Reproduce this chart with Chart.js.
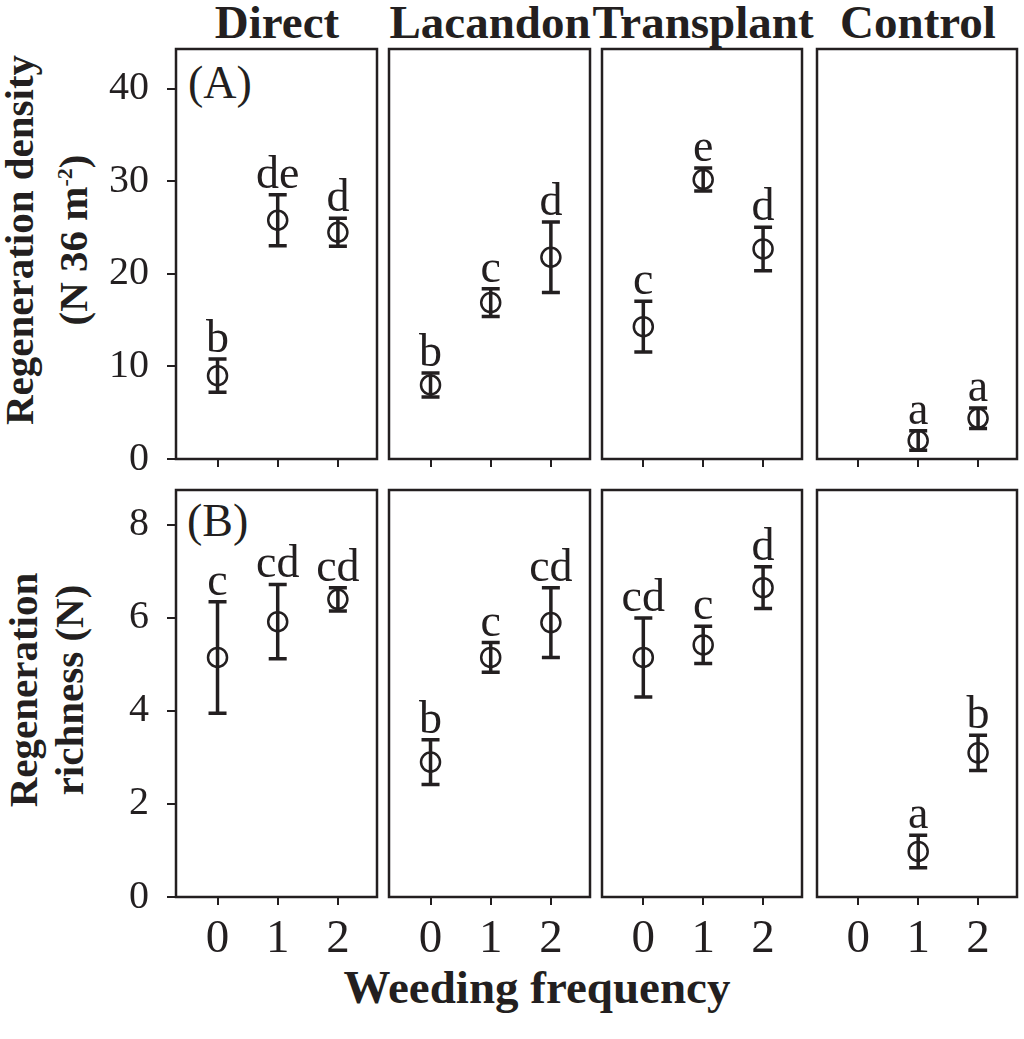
<!DOCTYPE html>
<html>
<head>
<meta charset="utf-8">
<script src="https://cdn.jsdelivr.net/npm/chart.js@4.4.0/dist/chart.umd.min.js"></script>
<style>
  body { margin: 0; background: #fff; }
  #wrap {
    position: relative; width: 1024px; height: 1039px; overflow: hidden;
    font-family: "Liberation Serif", "Times New Roman", serif; color: #231f20;
  }
  #wrap canvas { position: absolute; }
  .colTitle {
    position: absolute; top: -5px; font-weight: bold; font-size: 47px;
    transform: translateX(-50%); white-space: nowrap;
  }
  .panelTag { position: absolute; font-size: 46px; }
  .yTitle {
    position: absolute; font-weight: bold; font-size: 41px; line-height: 46px;
    text-align: center; white-space: nowrap;
    transform: translate(-50%, -50%) rotate(-90deg);
  }
  .yTitle sup { font-size: 22px; }
  #xTitle {
    position: absolute; left: 537px; top: 960px; font-weight: bold; font-size: 47px;
    transform: translateX(-50%); white-space: nowrap;
  }
</style>
</head>
<body>
<div id="wrap">
  <div class="colTitle" style="left:277px">Direct</div>
  <div class="colTitle" style="left:490px">Lacandon</div>
  <div class="colTitle" style="left:703px">Transplant</div>
  <div class="colTitle" style="left:918px">Control</div>
  <div class="panelTag" style="left:188px; top:56px">(A)</div>
  <div class="panelTag" style="left:187px; top:494px">(B)</div>
  <div class="yTitle" style="left:46px; top:240px">Regeneration density<br>(N 36 m<sup>-2</sup>)</div>
  <div class="yTitle" style="left:46px; top:690px">Regeneration<br>richness (N)</div>
  <div id="xTitle">Weeding frequency</div>
</div>
<script>
// ===== DATA =====
const treatments = ["Direct", "Lacandon", "Transplant", "Control"];
const weeding = [0, 1, 2];

// (A) regeneration density, N 36 m-2 (mean, +/- error)
const densityMean = [
    [9.0, 25.8, 24.5],
    [8.0, 16.9, 21.8],
    [14.3, 30.2, 22.7],
    [null, 2.0, 4.4],
];
const densityErr = [
    [1.8, 2.75, 1.5],
    [1.3, 1.5, 3.8],
    [2.75, 1.25, 2.35],
    [null, 1.05, 1.1],
];
const densityLetters = [
    ["b", "de", "d"],
    ["b", "c", "d"],
    ["c", "e", "d"],
    ["", "a", "a"],
];
const densityTicks = [0, 10, 20, 30, 40];

// (B) regeneration richness, N
const richnessMean = [
    [5.15, 5.92, 6.4],
    [2.9, 5.15, 5.9],
    [5.15, 5.42, 6.65],
    [null, 0.98, 3.1],
];
const richnessErr = [
    [1.2, 0.8, 0.25],
    [0.48, 0.32, 0.75],
    [0.85, 0.4, 0.45],
    [null, 0.35, 0.38],
];
const richnessLetters = [
    ["c", "cd", "cd"],
    ["b", "c", "cd"],
    ["cd", "c", "d"],
    ["", "a", "b"],
];
const richnessTicks = [0, 2, 4, 6, 8];

// ===== LAYOUT =====
const ink = "#231f20";
const serif = "'Liberation Serif', 'Times New Roman', serif";
const panelLeft = [176, 389, 602, 817];
const panelRight = [379, 592, 804, 1019];
const rowTop = [47, 488];
const rowBottom = [459, 897];
const xMin = -0.69, xMax = 2.65;

function errorBarPlugin(means, errs, letters) {
    return {
        id: "errorBars",
        afterDatasetsDraw(chart) {
            const { ctx, scales: { x, y } } = chart;
            ctx.save();
            ctx.strokeStyle = ink;
            ctx.fillStyle = ink;
            means.forEach((m, i) => {
                if (m == null) return;
                const px = x.getPixelForValue(weeding[i]);
                const top = y.getPixelForValue(m + errs[i]);
                const bot = y.getPixelForValue(m - errs[i]);
                ctx.lineWidth = 3.5;
                ctx.beginPath();
                ctx.moveTo(px, top);
                ctx.lineTo(px, bot);
                ctx.moveTo(px - 9, top);
                ctx.lineTo(px + 9, top);
                ctx.moveTo(px - 9, bot);
                ctx.lineTo(px + 9, bot);
                ctx.stroke();
                if (letters[i]) {
                    ctx.font = "46px " + serif;
                    ctx.textAlign = "center";
                    ctx.textBaseline = "alphabetic";
                    ctx.fillText(letters[i], px, top - 7);
                }
            });
            ctx.restore();
        },
        afterDraw(chart) {
            const a = chart.chartArea;
            const ctx = chart.ctx;
            ctx.save();
            ctx.strokeStyle = ink;
            ctx.lineWidth = 2.5;
            ctx.strokeRect(a.left, a.top, a.right - a.left, a.bottom - a.top);
            ctx.restore();
        },
    };
}

function makePanel(row, col) {
    const padL = 90, padT = 10, padR = 10;
    const padB = row === 1 ? 75 : 15;
    const L = panelLeft[col], R = panelRight[col], T = rowTop[row], B = rowBottom[row];
    const means = row === 0 ? densityMean[col] : richnessMean[col];
    const errs = row === 0 ? densityErr[col] : richnessErr[col];
    const letters = row === 0 ? densityLetters[col] : richnessLetters[col];
    const yTicks = row === 0 ? densityTicks : richnessTicks;
    const yMax = row === 0 ? 44.3 : 8.75;

    const canvas = document.createElement("canvas");
    canvas.width = R - L + padL + padR;
    canvas.height = B - T + padT + padB;
    canvas.style.left = (L - padL) + "px";
    canvas.style.top = (T - padT) + "px";
    document.getElementById("wrap").appendChild(canvas);

    const points = [];
    means.forEach((m, i) => {
        if (m != null) points.push({ x: weeding[i], y: m });
    });

    new Chart(canvas, {
        type: "scatter",
        data: {
            datasets: [{
                data: points,
                pointRadius: 9.5,
                pointHoverRadius: 9.5,
                pointBorderWidth: 2.5,
                pointBackgroundColor: "rgba(0,0,0,0)",
                pointBorderColor: ink,
                clip: false,
            }],
        },
        options: {
            responsive: false,
            animation: false,
            events: [],
            layout: { padding: { top: padT, right: padR, left: 0, bottom: 0 } },
            plugins: { legend: { display: false }, tooltip: { enabled: false } },
            scales: {
                x: {
                    type: "linear",
                    min: xMin,
                    max: xMax,
                    afterBuildTicks: (s) => { s.ticks = weeding.map((v) => ({ value: v })); },
                    afterFit: (s) => { s.height = padB; s.paddingLeft = 0; s.paddingRight = 0; },
                    border: { display: false },
                    grid: { drawOnChartArea: false, drawTicks: true, tickLength: 8, color: ink, lineWidth: 2 },
                    ticks: {
                        display: row === 1,
                        padding: 6,
                        color: ink,
                        font: { family: serif, size: 47 },
                        callback: (v) => String(v),
                    },
                },
                y: {
                    min: 0,
                    max: yMax,
                    afterBuildTicks: (s) => { s.ticks = yTicks.map((v) => ({ value: v })); },
                    afterFit: (s) => { s.width = padL; s.paddingTop = 0; s.paddingBottom = 0; },
                    border: { display: false },
                    grid: { drawOnChartArea: false, drawTicks: col === 0, tickLength: 9, color: ink, lineWidth: 2 },
                    ticks: {
                        display: col === 0,
                        padding: 18,
                        color: ink,
                        font: { family: serif, size: 40 },
                        callback: (v) => String(v),
                    },
                },
            },
        },
        plugins: [errorBarPlugin(means, errs, letters)],
    });
}

for (let r = 0; r < 2; r++) {
    for (let c = 0; c < treatments.length; c++) {
        makePanel(r, c);
    }
}
</script>
</body>
</html>
